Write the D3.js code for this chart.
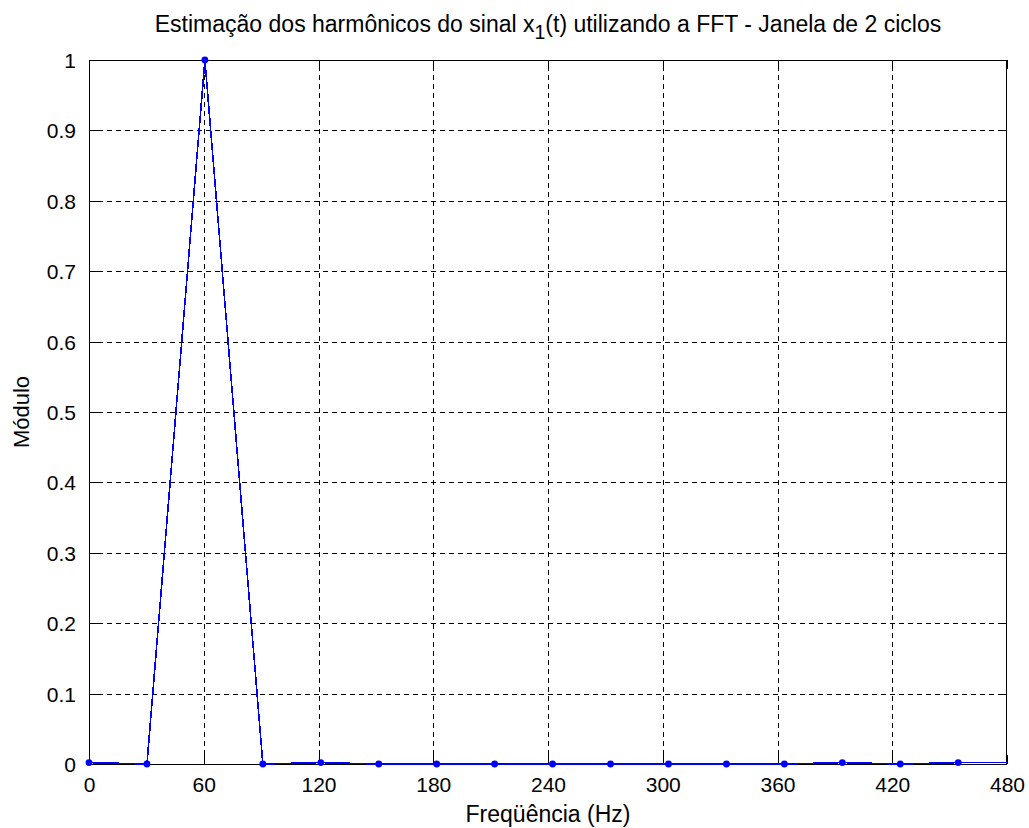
<!DOCTYPE html>
<html>
<head>
<meta charset="utf-8">
<script src="https://cdn.jsdelivr.net/npm/d3@7"></script>
<style>
  html, body { margin: 0; padding: 0; background: #fff; }
  svg { display: block; }
  text { font-family: "Liberation Sans", Arial, Helvetica, sans-serif; fill: #000; }
</style>
</head>
<body>
<script>
// FFT bin frequencies (Hz) and magnitudes of the 2-cycle window spectrum
const freqs = [0, 30.3, 60.6, 90.9, 121.2, 151.5, 181.8, 212.1, 242.4, 272.7,
               303.0, 333.3, 363.6, 393.9, 424.2, 454.5, 484.8];
const modulo = [0.002, 0, 1, 0, 0.002, 0, 0, 0, 0, 0,
                0, 0, 0, 0.002, 0, 0.002, 0.002];

const xTicks = [0, 60, 120, 180, 240, 300, 360, 420, 480];
const yTicks = [0, 0.1, 0.2, 0.3, 0.4, 0.5, 0.6, 0.7, 0.8, 0.9, 1];

const titleMain = "Estimação dos harmônicos do sinal x";
const titleSub = "1";
const titleRest = "(t) utilizando a FFT - Janela de 2 ciclos";
const xLabel = "Freqüência (Hz)";
const yLabel = "Módulo";

const W = 1029, H = 828;
const plot = { left: 89, right: 1007, top: 60, bottom: 764 };
const tickFont = 21;
const labelFont = 23;
const tickLen = 9;

const svg = d3.select("body").append("svg").attr("width", W).attr("height", H);

const x = d3.scaleLinear().domain([0, 480]).range([plot.left, plot.right]);
const y = d3.scaleLinear().domain([0, 1]).range([plot.bottom, plot.top]);

// dashed grid
const grid = svg.append("g")
  .attr("stroke", "#000").attr("stroke-width", 1)
  .attr("stroke-dasharray", "5,4").attr("shape-rendering", "crispEdges");
grid.selectAll("line.gx").data(xTicks.slice(1, -1)).join("line")
  .attr("x1", d => Math.round(x(d)) + 0.5).attr("x2", d => Math.round(x(d)) + 0.5)
  .attr("y1", plot.bottom).attr("y2", plot.top);
grid.selectAll("line.gy").data(yTicks.slice(1, -1)).join("line")
  .attr("y1", d => Math.round(y(d)) + 0.5).attr("y2", d => Math.round(y(d)) + 0.5)
  .attr("x1", plot.left).attr("x2", plot.right);

// axes (bottom/left with labels, top/right mirrored ticks), ticks pointing inward
const fmtY = d => d === 0 ? "0" : d === 1 ? "1" : d3.format(".1f")(d);

const bottomAxis = svg.append("g").attr("transform", `translate(0,${plot.bottom})`)
  .call(d3.axisBottom(x).tickValues(xTicks).tickSize(-tickLen).tickPadding(13).tickSizeOuter(0));
const topAxis = svg.append("g").attr("transform", `translate(0,${plot.top})`)
  .call(d3.axisTop(x).tickValues(xTicks).tickSize(-tickLen).tickFormat("").tickSizeOuter(0));
const leftAxis = svg.append("g").attr("transform", `translate(${plot.left},0)`)
  .call(d3.axisLeft(y).tickValues(yTicks).tickSize(-tickLen).tickPadding(13).tickFormat(fmtY).tickSizeOuter(0));
const rightAxis = svg.append("g").attr("transform", `translate(${plot.right},0)`)
  .call(d3.axisRight(y).tickValues(yTicks).tickSize(-tickLen).tickFormat("").tickSizeOuter(0));

[bottomAxis, topAxis, leftAxis, rightAxis].forEach(g => {
  g.selectAll(".domain").remove();
  g.selectAll("line").attr("stroke", "#000").attr("shape-rendering", "crispEdges");
  g.selectAll("text").attr("font-size", tickFont)
    .attr("font-family", "'Liberation Sans', Arial, sans-serif").attr("fill", "#000");
});
bottomAxis.selectAll("text").attr("dy", "0.71em");
leftAxis.selectAll("text").attr("dy", "0.36em");

// box
svg.append("rect")
  .attr("x", plot.left + 0.5).attr("y", plot.top + 0.5)
  .attr("width", plot.right - plot.left - 1).attr("height", plot.bottom - plot.top)
  .attr("fill", "none").attr("stroke", "#000").attr("stroke-width", 1.2)
  .attr("shape-rendering", "crispEdges");

// spectrum line with dot markers, clipped to the axes
svg.append("clipPath").attr("id", "plotClip").append("rect")
  .attr("x", plot.left - 5).attr("y", plot.top - 5)
  .attr("width", plot.right - plot.left + 5).attr("height", plot.bottom - plot.top + 10);

const series = freqs.map((f, i) => ({ f, v: modulo[i] }));
const lineGen = d3.line().x(d => x(d.f)).y(d => y(d.v));

const plotG = svg.append("g").attr("clip-path", "url(#plotClip)");
plotG.append("path").datum(series)
  .attr("d", lineGen).attr("fill", "none")
  .attr("stroke", "#0000ff").attr("stroke-width", 1.6)
  .attr("shape-rendering", "crispEdges");

plotG.selectAll("circle").data(series.filter(d => d.f <= 480)).join("circle")
  .attr("cx", d => x(d.f)).attr("cy", d => y(d.v)).attr("r", 3.4)
  .attr("fill", "#0000ff");

// title with subscript
const title = svg.append("text")
  .attr("x", (plot.left + plot.right) / 2).attr("y", 32)
  .attr("text-anchor", "middle").attr("font-size", labelFont);
title.append("tspan").text(titleMain);
title.append("tspan").attr("dy", 7).attr("font-size", labelFont * 0.85).text(titleSub);
title.append("tspan").attr("dy", -7).text(titleRest);

// axis labels
svg.append("text")
  .attr("x", (plot.left + plot.right) / 2).attr("y", 822)
  .attr("text-anchor", "middle").attr("font-size", labelFont).text(xLabel);

svg.append("text")
  .attr("transform", `translate(29,${(plot.top + plot.bottom) / 2}) rotate(-90)`)
  .attr("text-anchor", "middle").attr("font-size", 22).text(yLabel);
</script>
</body>
</html>
